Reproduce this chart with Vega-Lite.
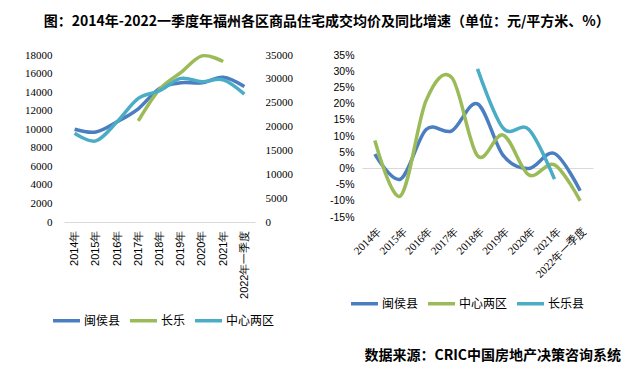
{
  "$schema": "https://vega.github.io/schema/vega-lite/v6.json",
  "padding": {"left": 24, "top": 14, "right": 0, "bottom": 0},
  "background": "white",
  "title": {"text": "图：2014年-2022一季度年福州各区商品住宅成交均价及同比增速（单位：元/平方米、%）", "font": "Noto Sans CJK SC", "fontSize": 14, "fontWeight": "bold", "anchor": "middle", "offset": 20, "dx": 4, "color": "#000000"},
  "datasets": {
    "price": [
      {"year": "2014年", "series": "闽侯县", "value": 10000},
      {"year": "2015年", "series": "闽侯县", "value": 9700},
      {"year": "2016年", "series": "闽侯县", "value": 10800},
      {"year": "2017年", "series": "闽侯县", "value": 12200},
      {"year": "2018年", "series": "闽侯县", "value": 14400},
      {"year": "2019年", "series": "闽侯县", "value": 15000},
      {"year": "2020年", "series": "闽侯县", "value": 15000},
      {"year": "2021年", "series": "闽侯县", "value": 15600},
      {"year": "2022年一季度", "series": "闽侯县", "value": 14600},
      {"year": "2017年", "series": "长乐", "value": 10900},
      {"year": "2018年", "series": "长乐", "value": 14300},
      {"year": "2019年", "series": "长乐", "value": 16100},
      {"year": "2020年", "series": "长乐", "value": 17900},
      {"year": "2021年", "series": "长乐", "value": 17300},
      {"year": "2014年", "series": "中心两区", "value": 18600},
      {"year": "2015年", "series": "中心两区", "value": 17000},
      {"year": "2016年", "series": "中心两区", "value": 21000},
      {"year": "2017年", "series": "中心两区", "value": 25900},
      {"year": "2018年", "series": "中心两区", "value": 27500},
      {"year": "2019年", "series": "中心两区", "value": 30100},
      {"year": "2020年", "series": "中心两区", "value": 29400},
      {"year": "2021年", "series": "中心两区", "value": 29800},
      {"year": "2022年一季度", "series": "中心两区", "value": 26800}
    ],
    "growth": [
      {"year": "2014年", "series": "闽侯县", "value": 4.4},
      {"year": "2015年", "series": "闽侯县", "value": -3.3},
      {"year": "2016年", "series": "闽侯县", "value": 12.0},
      {"year": "2017年", "series": "闽侯县", "value": 11.6},
      {"year": "2018年", "series": "闽侯县", "value": 19.9},
      {"year": "2019年", "series": "闽侯县", "value": 4.0},
      {"year": "2020年", "series": "闽侯县", "value": 0.0},
      {"year": "2021年", "series": "闽侯县", "value": 4.6},
      {"year": "2022年一季度", "series": "闽侯县", "value": -6.9},
      {"year": "2014年", "series": "中心两区", "value": 8.6},
      {"year": "2015年", "series": "中心两区", "value": -8.5},
      {"year": "2016年", "series": "中心两区", "value": 21.0},
      {"year": "2017年", "series": "中心两区", "value": 28.0},
      {"year": "2018年", "series": "中心两区", "value": 3.9},
      {"year": "2019年", "series": "中心两区", "value": 10.3},
      {"year": "2020年", "series": "中心两区", "value": -2.0},
      {"year": "2021年", "series": "中心两区", "value": 1.1},
      {"year": "2022年一季度", "series": "中心两区", "value": -10.0},
      {"year": "2018年", "series": "长乐县", "value": 30.7},
      {"year": "2019年", "series": "长乐县", "value": 12.4},
      {"year": "2020年", "series": "长乐县", "value": 12.0},
      {"year": "2021年", "series": "长乐县", "value": -3.3}
    ]
  },
  "spacing": 36,
  "resolve": {"scale": {"color": "independent", "x": "independent", "y": "independent"}, "legend": {"color": "independent"}},
  "hconcat": [
    {
      "width": 191,
      "height": 167,
      "layer": [
        {
          "data": {"name": "price"},
          "transform": [{"filter": "datum.series !== '中心两区'"}],
          "mark": {"type": "line", "interpolate": "cardinal", "strokeWidth": 3.5},
          "encoding": {
            "x": {"field": "year", "type": "ordinal", "sort": null,
              "scale": {"type": "point", "padding": 0.5, "domain": ["2014年","2015年","2016年","2017年","2018年","2019年","2020年","2021年","2022年一季度"]},
              "axis": {"title": null, "labelAngle": -90, "labelFont": "Liberation Sans", "labelFontSize": 11, "labelColor": "#000000", "labelPadding": 8, "labelOverlap": false, "domain": true, "domainColor": "#d9d9d9", "domainWidth": 1, "ticks": false}},
            "y": {"field": "value", "type": "quantitative", "scale": {"domain": [0, 18000], "nice": false},
              "axis": {"orient": "left", "title": null, "format": "d", "values": [0,2000,4000,6000,8000,10000,12000,14000,16000,18000], "labelFont": "Liberation Serif", "labelFontSize": 11, "labelColor": "#000000", "labelPadding": 12, "labelOverlap": false, "grid": false, "domain": false, "ticks": false}},
            "color": {"field": "series", "type": "nominal",
              "scale": {"domain": ["闽侯县", "长乐", "中心两区"], "range": ["#4a7ec0", "#9bbb59", "#4bacc6"]},
              "legend": {"orient": "none", "legendX": -13, "legendY": 250, "direction": "horizontal", "title": null, "symbolType": "stroke", "symbolStrokeWidth": 3.5, "symbolSize": 729, "labelFont": "Noto Sans CJK SC", "labelFontSize": 12, "labelColor": "#000000", "columnPadding": 2, "labelOffset": 2}}
          }
        },
        {
          "data": {"name": "price"},
          "transform": [{"filter": "datum.series === '中心两区'"}],
          "mark": {"type": "line", "interpolate": "cardinal", "strokeWidth": 3.5},
          "encoding": {
            "x": {"field": "year", "type": "ordinal", "sort": null},
            "y": {"field": "value", "type": "quantitative", "scale": {"domain": [0, 35000], "nice": false},
              "axis": {"orient": "right", "title": null, "format": "d", "values": [0,5000,10000,15000,20000,25000,30000,35000], "labelFont": "Liberation Serif", "labelFontSize": 11, "labelColor": "#000000", "labelPadding": 10, "labelOverlap": false, "grid": false, "domain": false, "ticks": false}},
            "color": {"field": "series", "type": "nominal"}
          }
        }
      ],
      "resolve": {"scale": {"y": "independent"}}
    },
    {
      "width": 231,
      "height": 162,
      "title": {"text": "数据来源：CRIC中国房地产决策咨询系统", "orient": "bottom", "anchor": "end", "font": "Noto Sans CJK SC", "fontSize": 14, "fontWeight": "bold", "color": "#000000", "offset": 38, "dx": 28, "frame": "group"},
      "data": {"name": "growth"},
      "mark": {"type": "line", "interpolate": "cardinal", "strokeWidth": 3.5},
      "encoding": {
        "x": {"field": "year", "type": "ordinal", "sort": null,
          "scale": {"type": "point", "padding": 0.5, "domain": ["2014年","2015年","2016年","2017年","2018年","2019年","2020年","2021年","2022年一季度"]},
          "axis": {"title": null, "labelAngle": -45, "labelFont": "Liberation Serif", "labelFontSize": 11, "labelColor": "#000000", "labelPadding": 8, "labelOverlap": false, "domain": false, "ticks": false}},
        "y": {"field": "value", "type": "quantitative", "scale": {"domain": [-15, 35], "nice": false},
          "axis": {"title": null, "values": [-15,-10,-5,0,5,10,15,20,25,30,35], "labelExpr": "datum.value + '%'", "labelFont": "Liberation Sans", "labelFontSize": 10.5, "labelColor": "#000000", "labelPadding": 8, "labelOverlap": false, "domain": false, "ticks": false,
            "grid": true, "gridColor": "#d9d9d9", "gridWidth": 1, "gridOpacity": {"condition": {"test": "datum.value === 0", "value": 1}, "value": 0}}},
        "color": {"field": "series", "type": "nominal",
          "scale": {"domain": ["闽侯县", "中心两区", "长乐县"], "range": ["#4a7ec0", "#9bbb59", "#4bacc6"]},
          "legend": {"orient": "none", "legendX": -13, "legendY": 233, "direction": "horizontal", "title": null, "symbolType": "stroke", "symbolStrokeWidth": 3.5, "symbolSize": 729, "labelFont": "Noto Sans CJK SC", "labelFontSize": 12, "labelColor": "#000000", "columnPadding": 2, "labelOffset": 2}}
      }
    }
  ],
  "config": {"view": {"stroke": null}}
}
